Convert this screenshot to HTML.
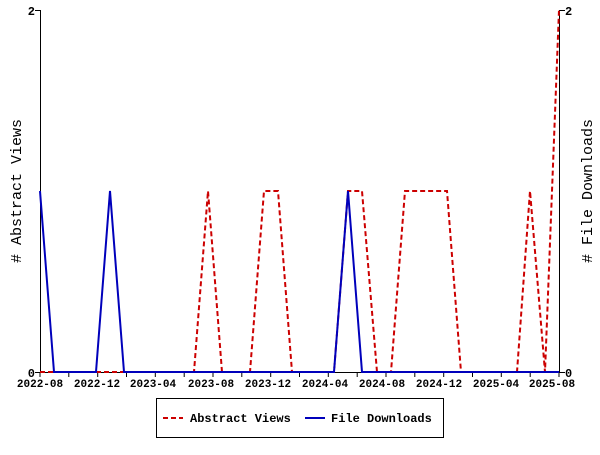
<!DOCTYPE html>
<html><head><style>body{margin:0;background:#fff}</style></head><body>
<svg width="600" height="450" xmlns="http://www.w3.org/2000/svg" font-family="Liberation Mono, monospace" font-size="11" font-weight="bold">
<rect width="600" height="450" fill="#fff"/>
<g stroke="#000" stroke-width="1">
<line x1="40.5" y1="10" x2="40.5" y2="373"/>
<line x1="559.5" y1="10" x2="559.5" y2="373"/>
<line x1="40" y1="372.5" x2="560" y2="372.5"/>
<line x1="35" y1="10.5" x2="40" y2="10.5"/><line x1="35" y1="372.5" x2="40" y2="372.5"/>
<line x1="560" y1="10.5" x2="565" y2="10.5"/><line x1="560" y1="372.5" x2="565" y2="372.5"/>
</g>
<g stroke="#000" id="t"></g>
<g text-anchor="end" font-size="12"><text x="35" y="15">2</text><text x="35" y="377">0</text></g>
<g font-size="12"><text x="565" y="15">2</text><text x="565" y="377">0</text></g>
<g text-anchor="middle">
<text x="40" y="387">2022-08</text><text x="97" y="387">2022-12</text><text x="153" y="387">2023-04</text>
<text x="211" y="387">2023-08</text><text x="268" y="387">2023-12</text><text x="325" y="387">2024-04</text>
<text x="382" y="387">2024-08</text><text x="439" y="387">2024-12</text><text x="496" y="387">2025-04</text>
<text x="552" y="387">2025-08</text>
</g>
<text transform="translate(21,191) rotate(-90)" text-anchor="middle" font-size="15" font-weight="normal">#&#160;Abstract&#160;Views</text>
<text transform="translate(592,191) rotate(-90)" text-anchor="middle" font-size="15" font-weight="normal">#&#160;File&#160;Downloads</text>
<polyline fill="none" stroke="#cc0000" stroke-width="2" stroke-dasharray="5,3" points="40,372 194,372 208,191 222,372 250,372 264,191 278,191 292,372 334,372 348,191 362,191 377,372 391,372 405,191 447,191 461,372 517,372 530,191 545,372 559,10"/>
<polyline fill="none" stroke="#0000bb" stroke-width="2" points="40,191 54,372 96,372 110,191 124,372 334,372 348,191 362,372 559,372"/>
<rect x="156.5" y="398.5" width="287" height="39" fill="none" stroke="#000"/>
<line x1="163" y1="418" x2="183" y2="418" stroke="#cc0000" stroke-width="2" stroke-dasharray="5,3"/>
<text x="190" y="422" font-size="12">Abstract Views</text>
<line x1="305" y1="418" x2="325" y2="418" stroke="#0000bb" stroke-width="2"/>
<text x="331" y="422" font-size="12">File Downloads</text>
</svg>
<script>
var g=document.getElementById('t'),s='';
for(var i=0;i<=18;i++){var x=(40+i*519/18).toFixed(1);s+='<line x1="'+x+'" y1="372" x2="'+x+'" y2="377" stroke="#000"/>';}
g.innerHTML=s;
</script>
</body></html>
